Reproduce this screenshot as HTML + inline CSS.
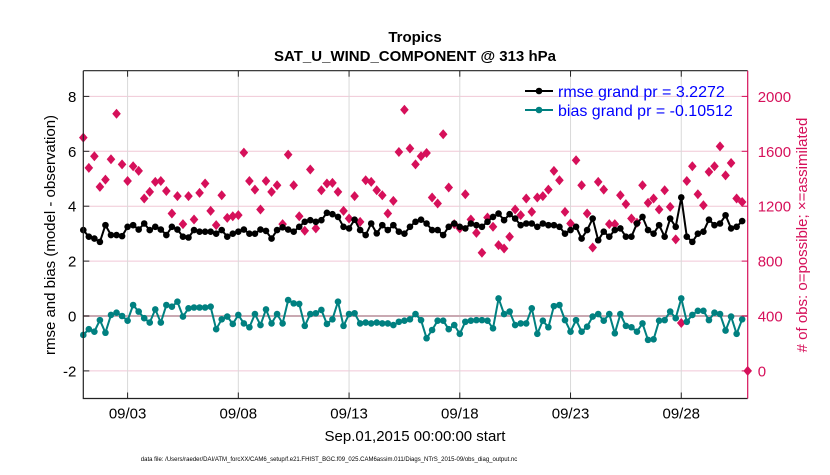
<!DOCTYPE html>
<html><head><meta charset="utf-8"><style>
body{margin:0;background:#fff;}
svg text{font-family:"Liberation Sans",Arial,sans-serif;}
</style></head><body>
<svg id="chart" width="830" height="470" viewBox="0 0 830 470" xmlns="http://www.w3.org/2000/svg">
<rect width="830" height="470" fill="#fff"/>
<text x="415" y="42" font-size="15" font-weight="bold" text-anchor="middle">Tropics</text>
<text x="415" y="61" font-size="15" font-weight="bold" text-anchor="middle">SAT_U_WIND_COMPONENT @ 313 hPa</text>
<g id="grid"></g>
<g id="marks"></g>
<g id="axes"></g>
<text x="415" y="441" font-size="15" text-anchor="middle">Sep.01,2015 00:00:00 start</text>
<text transform="translate(55,235) rotate(-90)" font-size="15" text-anchor="middle">rmse and bias (model - observation)</text>
<text transform="translate(807,235) rotate(-90)" font-size="15" fill="#d6105a" text-anchor="middle"># of obs: o=possible; ×=assimilated</text>
<text x="329" y="461" font-size="6" text-anchor="middle">data file: /Users/raeder/DAI/ATM_forcXX/CAM6_setup/f.e21.FHIST_BGC.f09_025.CAM6assim.011/Diags_NTrS_2015-09/obs_diag_output.nc</text>
<g id="legend">
<line x1="525" y1="91" x2="553" y2="91" stroke="#000" stroke-width="2"/>
<circle cx="539" cy="91" r="3.3" fill="#000"/>
<text x="558" y="97" font-size="16" fill="#0000ff">rmse grand pr = 3.2272</text>
<line x1="525" y1="110" x2="553" y2="110" stroke="#008080" stroke-width="2"/>
<circle cx="539" cy="110" r="3.3" fill="#008080"/>
<text x="558" y="116" font-size="16" fill="#0000ff">bias grand pr = -0.10512</text>
</g>
</svg>
<script>
const rmse=[3.13,2.89,2.82,2.70,3.31,2.95,2.95,2.91,3.25,3.31,3.15,3.37,3.13,3.25,3.15,2.95,3.25,3.15,2.89,2.86,3.13,3.07,3.07,3.07,3.0,3.13,2.89,3.0,3.07,3.15,3.0,3.0,3.15,3.1,2.82,3.13,3.23,3.15,3.07,3.25,3.43,3.49,3.43,3.49,3.76,3.71,3.61,3.25,3.19,3.51,3.13,2.95,3.37,3.01,3.31,3.13,3.31,3.07,3.0,
3.25,3.43,3.51,3.37,3.13,3.13,2.95,3.25,3.37,3.25,3.19,3.37,3.31,3.25,3.43,3.61,3.73,3.49,3.71,3.55,3.31,3.37,3.37,3.25,3.37,3.31,3.31,3.25,3.0,3.13,3.25,2.82,3.13,3.55,2.76,3.07,2.89,3.13,3.19,2.89,2.89,3.37,3.61,3.13,3.0,3.31,2.89,3.55,3.25,4.32,2.89,2.70,3.0,3.07,3.51,3.31,3.37,3.67,3.19,3.25,3.46];
const bias=[-0.69,-0.48,-0.57,-0.15,-0.61,0.04,0.12,0,-0.17,0.40,0.16,-0.08,-0.24,0.24,-0.24,0.40,0.34,0.52,-0.02,0.28,0.31,0.31,0.31,0.34,-0.48,-0.12,-0.02,-0.29,0.04,-0.27,-0.41,0.07,-0.33,0.24,-0.27,0.07,-0.27,0.58,0.46,0.44,-0.36,0.07,0.10,0.22,-0.29,-0.12,0.52,-0.36,0.07,0.10,-0.27,-0.24,-0.27,-0.24,-0.27,-0.27,-0.33,-0.21,-0.17,
-0.12,0.07,-0.15,-0.81,-0.51,-0.17,-0.17,-0.48,-0.33,-0.65,-0.21,-0.17,-0.15,-0.15,-0.17,-0.45,0.64,0.07,0.16,-0.33,-0.27,-0.27,0.28,-0.65,-0.17,-0.41,0.36,0.40,-0.15,-0.57,-0.15,-0.57,-0.39,-0.02,0.07,-0.17,0.07,-0.63,0.07,-0.36,-0.41,-0.57,-0.27,-0.87,-0.85,-0.17,-0.15,0.16,-0.08,0.64,-0.21,0.04,0.19,0.19,-0.15,0.12,0.07,-0.53,-0.02,-0.65,-0.12];
const nobs=[1700,1479,1564,1341,1394,1542,1874,1505,1384,1491,1457,1256,1304,1377,1384,1311,1147,1273,1069,1273,1103,1297,1365,1166,1062,1280,1115,1127,1135,1590,1384,1321,1176,1384,1304,1353,1069,1576,1353,1127,1021,1467,1038,1316,1365,1370,1304,1166,1110,1273,1086,1389,1377,1316,1280,1147,1239,1595,1903,
1620,1505,1564,1588,1263,1220,1724,1336,1069,1038,1287,1103,1006,861,1118,1050,916,892,977,1176,1135,1256,1159,1263,1273,1321,1457,1389,1159,1074,1535,1353,1147,899,1377,1321,1069,1069,1280,1215,1110,1079,1353,1224,1256,1176,1316,1195,958,349,1384,1491,1287,1207,1450,1491,1636,1425,1515,1256,1231,0];
const xTickDays=[2,7,12,17,22,27];
const xTickLabels=["09/03","09/08","09/13","09/18","09/23","09/28"];
const yTicks=[-2,0,2,4,6,8];
const y2Ticks=[0,400,800,1200,1600,2000];

const NS="http://www.w3.org/2000/svg";
const X0=83.3,X1=747.7,Y0=70.7,Y1=398.5;
const dayPx=(X1-X0)/30;
function xDay(d){return X0+d*dayPx;}
function xIdx(i){return xDay(i*0.25);}
function yL(v){return 316-v*27.45;}
function yR(c){return yL(c/200-2);}
function mk(tag,attrs,parent){const e=document.createElementNS(NS,tag);for(const k in attrs)e.setAttribute(k,attrs[k]);parent.appendChild(e);return e;}
const grid=document.getElementById('grid'),marks=document.getElementById('marks'),axes=document.getElementById('axes');
const RED="#d6105a";
yTicks.forEach(v=>{
  const l=mk('line',{x1:X0,x2:X1,y1:yL(v),y2:yL(v),stroke:'#f0c8d6','stroke-width':1},grid);
  
  
});
xTickDays.forEach((d,k)=>{
  const l=mk('line',{x1:xDay(d),x2:xDay(d),y1:Y0,y2:Y1,stroke:'#d9d9d9','stroke-width':1},grid);
  
  
});
const zl=mk('line',{x1:X0,x2:X1,y1:yL(0),y2:yL(0),stroke:'#c9a9b2','stroke-width':2},grid);


nobs.forEach((c,i)=>{
  const x=xIdx(i),y=yR(c);
  const d=mk('path',{d:`M${x} ${y-5}L${x+4.3} ${y}L${x} ${y+5}L${x-4.3} ${y}Z`,fill:RED},marks);
  
  
});
function series(vals,color,name){
  const pts=vals.map((v,i)=>xIdx(i).toFixed(1)+','+yL(v).toFixed(1)).join(' ');
  const pl=mk('polyline',{points:pts,fill:'none',stroke:color,'stroke-width':2,'stroke-linejoin':'round'},marks);
  
  
  vals.forEach((v,i)=>{
    const c=mk('circle',{cx:xIdx(i),cy:yL(v),r:3.3,fill:color},marks);
    
    
  });
}
series(rmse,'#000','rmse');
series(bias,'#008080','bias');
const frame=mk('path',{d:`M${X0} ${Y0}L${X1} ${Y0}M${X0} ${Y0}L${X0} ${Y1}L${X1} ${Y1}`,stroke:'#222',fill:'none','stroke-width':1.2},axes);


const rax=mk('line',{x1:X1,x2:X1,y1:Y0,y2:Y1,stroke:RED,'stroke-width':1.2},axes);


yTicks.forEach(v=>{
  mk('line',{x1:X0,x2:X0+6,y1:yL(v),y2:yL(v),stroke:'#222'},axes);
  const t=mk('text',{x:X0-7,y:yL(v)+5.5,'font-size':15,'text-anchor':'end'},axes);
  t.textContent=v;
  
  
});
y2Ticks.forEach(c=>{
  mk('line',{x1:X1-6,x2:X1,y1:yR(c),y2:yR(c),stroke:RED},axes);
  const t=mk('text',{x:X1+10,y:yR(c)+5.5,'font-size':15,fill:RED},axes);
  t.textContent=c;
  
  
});
xTickDays.forEach((d,k)=>{
  mk('line',{x1:xDay(d),x2:xDay(d),y1:Y1,y2:Y1-6,stroke:'#222'},axes);
  mk('line',{x1:xDay(d),x2:xDay(d),y1:Y0,y2:Y0+6,stroke:'#222'},axes);
  const t=mk('text',{x:xDay(d),y:Y1+20,'font-size':15,'text-anchor':'middle'},axes);
  t.textContent=xTickLabels[k];
  
  
});
</script>
</body></html>
